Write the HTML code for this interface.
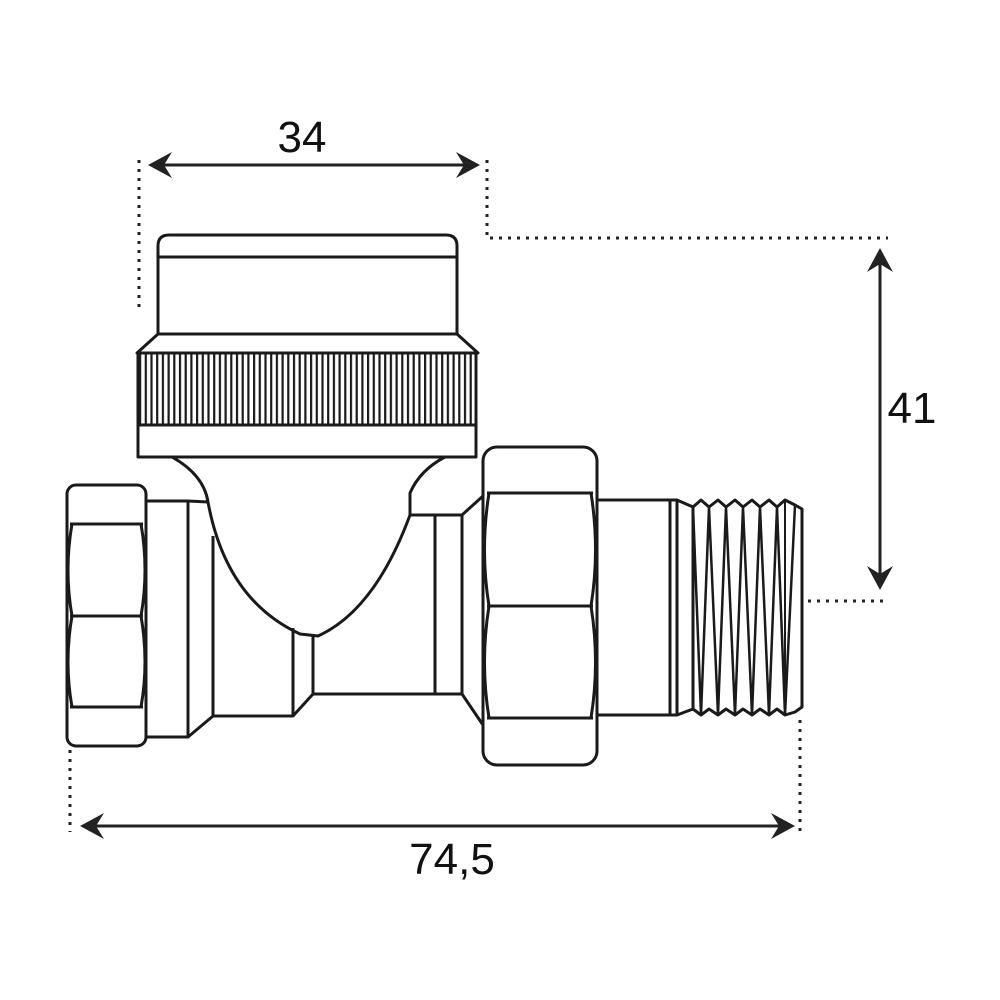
<!DOCTYPE html>
<html><head><meta charset="utf-8"><style>html,body{margin:0;padding:0;background:#fff}svg{display:block}</style></head>
<body>
<svg width="1000" height="1000" viewBox="0 0 1000 1000" xmlns="http://www.w3.org/2000/svg">
<defs>
<pattern id="kn" x="139" y="0" width="5.7" height="10" patternUnits="userSpaceOnUse">
<rect x="0" y="0" width="2.2" height="10" fill="#1a1a1a"/>
</pattern>
</defs>
<rect width="1000" height="1000" fill="#fff"/>
<g fill="none" stroke="#1a1a1a" stroke-width="3" stroke-linejoin="round">
<!-- cap -->
<path d="M158,334 L158,246 Q158,235 169,235 L446,235 Q457,235 457,246 L457,334"/>
<line x1="158" y1="257" x2="457" y2="257"/>
<path d="M158,334 L457,334 L478,353 L137,353 Z"/>
<rect x="138" y="353" width="338" height="72" fill="url(#kn)"/>
<rect x="138" y="425" width="338" height="32" fill="#fff"/>
<!-- neck / bulb -->
<path d="M172,457 Q204,475 208,502 Q226,600 300,634 L318,636 Q375,610 410,515 L410,493 Q420,470 445,457"/>
<!-- left nut -->
<rect x="67" y="485" width="79" height="261" rx="9"/>
<line x1="70" y1="524" x2="143" y2="524"/>
<line x1="70" y1="616" x2="143" y2="616"/>
<line x1="70" y1="707" x2="143" y2="707"/>
<path d="M72,524 Q64,570 72,616 Q64,662 72,707"/>
<path d="M141,524 Q149,570 141,616 Q149,662 141,707"/>
<!-- left sleeve -->
<rect x="146" y="501" width="42" height="236"/>
<path d="M188,501 L208,502"/>
<path d="M188,737 L213,716 L293,716 L313,694 L435,694 L462,694 L483,725"/>
<line x1="213" y1="536" x2="213" y2="716"/>
<line x1="293" y1="628" x2="293" y2="716"/>
<line x1="313" y1="635" x2="313" y2="694"/>
<path d="M410,515 L462,515 L483,496"/>
<line x1="435" y1="515" x2="435" y2="694"/>
<line x1="462" y1="515" x2="462" y2="694"/>
<!-- right nut -->
<rect x="483" y="447" width="114" height="318" rx="14"/>
<line x1="487" y1="493" x2="593" y2="493"/>
<line x1="487" y1="606" x2="593" y2="606"/>
<line x1="487" y1="718" x2="593" y2="718"/>
<path d="M489,493 Q480,550 489,606 Q480,662 489,718"/>
<path d="M591,493 Q600,550 591,606 Q600,662 591,718"/>
<!-- pipe -->
<path d="M597,500 L670,500 L670,715 L597,715"/>
<path d="M670,500 L677,500 L693,507 L693,709 L677,715 L670,715"/>
<line x1="677" y1="500" x2="677" y2="715"/>
<!-- thread -->
<path d="M693,507 L701,500 L709,507 L718,500 L726,507 L735,500 L743,507 L752,500 L760,507 L769,500 L777,507 L785,500 L795,505 L802,509 L802,707 L795,712 L785,715 L777,709 L769,715 L760,709 L752,715 L743,709 L735,715 L726,709 L718,715 L709,709 L701,715 L693,709"/>
<path d="M693,507 L701,715 L709,507 L718,715 L726,507 L735,715 L743,507 L752,715 L760,507 L769,715 L777,507 L785,715 L795,505" stroke-width="2.5"/>
<line x1="785" y1="500" x2="785" y2="715" stroke-width="2"/>
</g>
<!-- dotted lines -->
<g fill="none" stroke="#222" stroke-width="3" stroke-dasharray="3,6">
<line x1="139" y1="160" x2="139" y2="312"/>
<line x1="487" y1="160" x2="487" y2="238"/>
<line x1="490" y1="238" x2="888" y2="238"/>
<line x1="808" y1="601" x2="888" y2="601"/>
<line x1="70" y1="750" x2="70" y2="832"/>
<line x1="800" y1="720" x2="800" y2="832"/>
</g>
<!-- dimension arrows -->
<g stroke="#222" stroke-width="3" fill="#222">
<line x1="155" y1="165" x2="472" y2="165"/>
<path d="M148,165 L172,152 L164,165 L172,178 Z" stroke="none"/>
<path d="M480,165 L456,152 L464,165 L456,178 Z" stroke="none"/>
<line x1="880" y1="255" x2="880" y2="583"/>
<path d="M880,248 L867,272 L880,264 L893,272 Z" stroke="none"/>
<path d="M880,590 L867,566 L880,574 L893,566 Z" stroke="none"/>
<line x1="87" y1="826" x2="788" y2="826"/>
<path d="M80,826 L104,813 L96,826 L104,839 Z" stroke="none"/>
<path d="M795,826 L771,813 L779,826 L771,839 Z" stroke="none"/>
</g>
<g font-family="Liberation Sans, sans-serif" font-size="44" fill="#111" text-anchor="middle">
<text x="302" y="152">34</text>
<text x="912" y="423">41</text>
<text x="452" y="874">74,5</text>
</g>
</svg>
</body></html>
